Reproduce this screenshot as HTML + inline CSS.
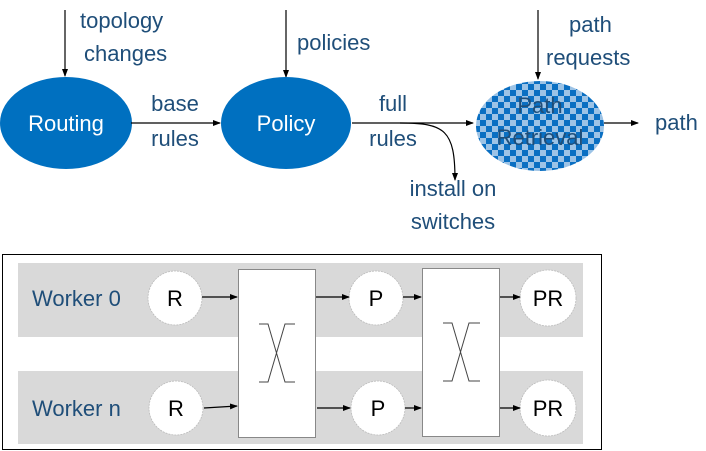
<!DOCTYPE html>
<html><head><meta charset="utf-8"><style>
html,body{margin:0;padding:0;background:#fff;}
svg{display:block;}
text{font-family:"Liberation Sans",sans-serif;}
</style></head><body>
<svg width="706" height="451" viewBox="0 0 706 451" xmlns="http://www.w3.org/2000/svg">
<defs>
<marker id="a" markerWidth="8" markerHeight="8" refX="7" refY="4" orient="auto" markerUnits="userSpaceOnUse">
<path d="M0,1 L8,4 L0,7 Z" fill="#000"/></marker>
<pattern id="chk" width="12" height="12" patternUnits="userSpaceOnUse">
<rect width="12" height="12" fill="#9cc3e6"/>
<rect width="6" height="6" fill="#0a6fc2"/>
<rect x="6" y="6" width="6" height="6" fill="#0a6fc2"/>
</pattern>
</defs>
<g fill="#1f4e79" font-size="22">
<!-- top vertical arrows -->
<line x1="65" y1="10" x2="65" y2="76" stroke="#000" stroke-width="1.2" marker-end="url(#a)"/>
<line x1="286" y1="10" x2="286" y2="77" stroke="#000" stroke-width="1.2" marker-end="url(#a)"/>
<line x1="538" y1="10" x2="538" y2="79" stroke="#000" stroke-width="1.2" marker-end="url(#a)"/>
<text x="80" y="28">topology</text>
<text x="84" y="61">changes</text>
<text x="297" y="50">policies</text>
<text x="569" y="32">path</text>
<text x="546" y="65">requests</text>
<!-- ellipses -->
<ellipse cx="66" cy="123" rx="66" ry="46" fill="#0070c0"/>
<ellipse cx="286" cy="123" rx="65" ry="46" fill="#0070c0"/>
<ellipse cx="540" cy="126" rx="64" ry="45" fill="url(#chk)"/>
<text x="66" y="131" fill="#fff" text-anchor="middle">Routing</text>
<text x="286" y="131" fill="#fff" text-anchor="middle">Policy</text>
<text x="540" y="113" text-anchor="middle">Path</text>
<text x="540" y="145" text-anchor="middle">Retrieval</text>
<!-- horizontal arrows -->
<line x1="131" y1="123" x2="220" y2="123" stroke="#000" stroke-width="1.2" marker-end="url(#a)"/>
<line x1="352" y1="123" x2="473" y2="123" stroke="#000" stroke-width="1.2" marker-end="url(#a)"/>
<line x1="604" y1="123" x2="638" y2="123" stroke="#000" stroke-width="1.2" marker-end="url(#a)"/>
<path d="M400,123 C445,123 455,130 455,180" fill="none" stroke="#000" stroke-width="1.2" marker-end="url(#a)"/>
<text x="175" y="111" text-anchor="middle">base</text>
<text x="175" y="146" text-anchor="middle">rules</text>
<text x="393" y="111" text-anchor="middle">full</text>
<text x="393" y="146" text-anchor="middle">rules</text>
<text x="453" y="196" text-anchor="middle">install on</text>
<text x="453" y="229" text-anchor="middle">switches</text>
<text x="655" y="130">path</text>
</g>
<!-- bottom -->
<rect x="2.5" y="254.5" width="599" height="195" fill="#fff" stroke="#000" stroke-width="1"/>
<rect x="18" y="263" width="565" height="74" fill="#d9d9d9"/>
<rect x="18" y="371" width="565" height="73" fill="#d9d9d9"/>
<g font-size="22">
<text x="32" y="306" fill="#1f4e79">Worker 0</text>
<text x="32" y="416" fill="#1f4e79">Worker n</text>
</g>
<g stroke="#bbb" stroke-width="0.8" stroke-dasharray="2,1" fill="#fff">
<circle cx="175" cy="298" r="27"/><circle cx="376" cy="298" r="27"/><circle cx="548" cy="298" r="28"/>
<circle cx="176" cy="408" r="27"/><circle cx="378" cy="408" r="27"/><circle cx="548" cy="408" r="28"/>
</g>
<rect x="238.5" y="269.5" width="77" height="168" fill="#fff" stroke="#888" stroke-width="1"/>
<rect x="422.5" y="268.5" width="77" height="168" fill="#fff" stroke="#888" stroke-width="1"/>
<g stroke="#444" stroke-width="1" fill="none">
<path d="M259,324 H268 L285,382 H295 M259,382 H268 L285,324 H295"/>
<path d="M443,323 H452 L469,381 H480 M443,381 H452 L469,323 H480"/>
</g>
<g stroke="#000" stroke-width="1.2" marker-end="url(#a)">
<line x1="202" y1="297" x2="237" y2="297"/>
<line x1="316" y1="297" x2="349" y2="297"/>
<line x1="403" y1="297" x2="421" y2="297"/>
<line x1="500" y1="297" x2="520" y2="297"/>
<path d="M204,408 L237,406" fill="none"/>
<line x1="317" y1="408" x2="350" y2="408"/>
<line x1="405" y1="408" x2="421" y2="408"/>
<line x1="500" y1="408" x2="520" y2="408"/>
</g>
<g font-size="22" fill="#000" text-anchor="middle">
<text x="175" y="306">R</text><text x="376" y="306">P</text><text x="548" y="306">PR</text>
<text x="176" y="416">R</text><text x="378" y="416">P</text><text x="548" y="416">PR</text>
</g>
</svg>
</body></html>
